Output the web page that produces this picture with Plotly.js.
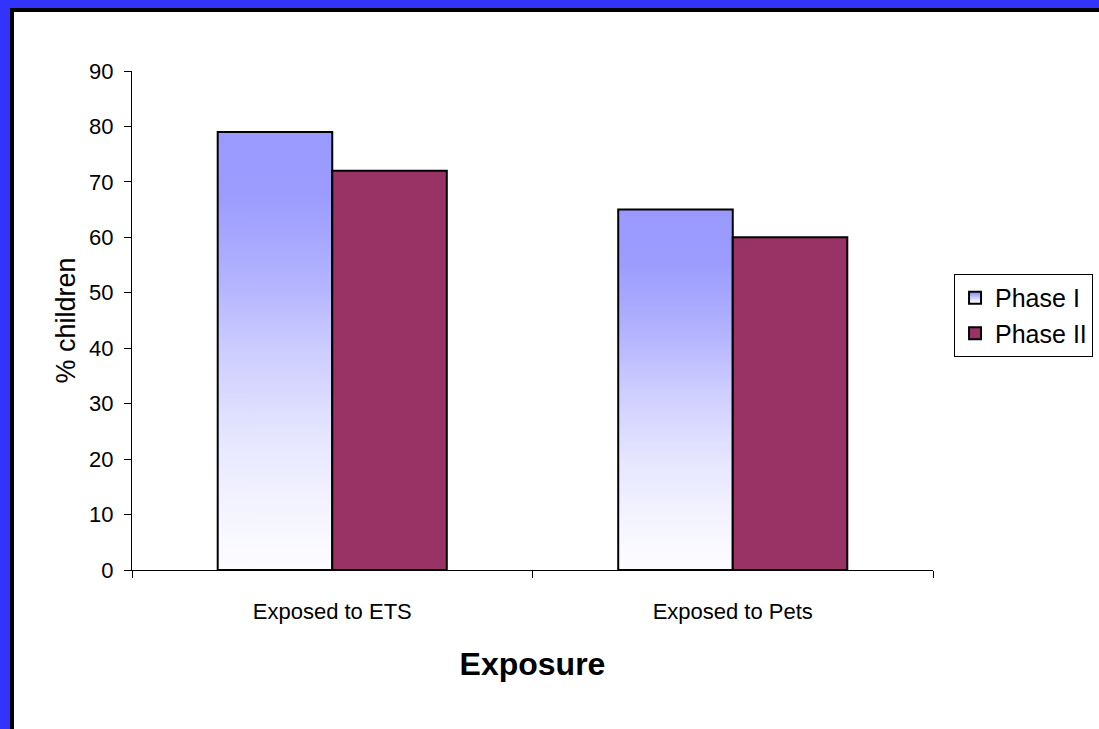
<!DOCTYPE html>
<html>
<head>
<meta charset="utf-8">
<script src="https://cdn.plot.ly/plotly-3.0.1.min.js"></script>
<style>
  html, body { margin: 0; padding: 0; width: 1099px; height: 729px; overflow: hidden; background: #fff; position: relative; }
  .strip { position: absolute; }
  #chart { position: absolute; left: 14px; top: 12px; width: 1085px; height: 717px; }
</style>
</head>
<body>
<div class="strip" style="left:0;top:0;width:1099px;height:8px;background:#3333FF"></div>
<div class="strip" style="left:0;top:0;width:10px;height:729px;background:#3333FF"></div>
<div class="strip" style="left:10px;top:8px;width:1089px;height:4px;background:#000"></div>
<div class="strip" style="left:10px;top:8px;width:4px;height:721px;background:#000"></div>
<div id="chart"></div>
<script>
const categories = ["Exposed to ETS", "Exposed to Pets"];
const phase1 = [79, 65];
const phase2 = [72, 60];
const seriesNames = ["Phase I", "Phase II"];
const yTicks = [0, 10, 20, 30, 40, 50, 60, 70, 80, 90];

const FONT = "Liberation Sans, Arial, sans-serif";

const traces = [
  {
    type: "bar", name: seriesNames[0], x: categories, y: phase1,
    marker: { color: "#9999FF", line: { color: "#000", width: 2 } }
  },
  {
    type: "bar", name: seriesNames[1], x: categories, y: phase2,
    marker: { color: "#993366", line: { color: "#000", width: 2 } }
  }
];

const layout = {
  width: 1085, height: 717,
  paper_bgcolor: "#fff", plot_bgcolor: "#fff",
  margin: { l: 118, r: 166, t: 59, b: 159 },
  barmode: "group", bargap: 0.428, bargroupgap: 0,
  font: { family: FONT, color: "#000" },
  showlegend: true,
  legend: {
    xref: "container", yref: "container",
    x: 0.8664, y: 0.6346, xanchor: "left", yanchor: "top",
    bordercolor: "#000", borderwidth: 1, bgcolor: "#fff",
    font: { size: 25, family: FONT }, tracegroupgap: 0,
    itemwidth: 30
  },
  xaxis: {
    type: "category", showline: true, linecolor: "#000", linewidth: 1,
    ticks: "outside", ticklen: 7, tickcolor: "#000", tickson: "boundaries",
    showgrid: false, zeroline: false,
    tickfont: { size: 22, family: FONT },
    ticklabelstandoff: 22,
    title: { text: "<b>Exposure</b>", font: { size: 32, family: FONT }, standoff: 29 }
  },
  yaxis: {
    range: [0, 90], tickvals: yTicks, ticktext: yTicks.map(String),
    showline: true, linecolor: "#000", linewidth: 1,
    ticks: "outside", ticklen: 7, tickcolor: "#000",
    showgrid: false, zeroline: false,
    tickfont: { size: 22, family: FONT },
    ticklabelstandoff: 6,
    title: { text: "% children", font: { size: 27, family: FONT }, standoff: 5 }
  }
};

function applyGradient(gd) {
  const NS = "http://www.w3.org/2000/svg";
  const svg = gd.querySelector("svg.main-svg");
  if (!document.getElementById("p1grad")) {
    const defs = document.createElementNS(NS, "defs");
    const g = document.createElementNS(NS, "linearGradient");
    g.setAttribute("id", "p1grad");
    g.setAttribute("x1", "0"); g.setAttribute("y1", "0");
    g.setAttribute("x2", "0"); g.setAttribute("y2", "1");
    [[0, "#9999FF"], [0.15, "#9C9CFF"], [0.35, "#B4B4FF"], [0.5, "#CDCDFF"], [0.7, "#E6E6FF"], [0.85, "#F3F3FF"], [1, "#FDFDFF"]]
      .forEach(([o, c]) => {
        const s = document.createElementNS(NS, "stop");
        s.setAttribute("offset", o);
        s.setAttribute("stop-color", c);
        g.appendChild(s);
      });
    defs.appendChild(g);
    svg.insertBefore(defs, svg.firstChild);
  }
  const barTraces = gd.querySelectorAll(".barlayer .trace");
  if (barTraces[0]) barTraces[0].querySelectorAll("path").forEach(p => { p.style.fill = "url(#p1grad)"; });
  const leg = gd.querySelectorAll(".legend .traces");
  if (leg[0]) leg[0].querySelectorAll(".legendpoints path").forEach(p => { p.style.fill = "url(#p1grad)"; });
}

const gd = document.getElementById("chart");
Plotly.newPlot(gd, traces, layout, { staticPlot: true, displayModeBar: false }).then(() => {
  applyGradient(gd);
  gd.on("plotly_afterplot", () => applyGradient(gd));
});
</script>
</body>
</html>
